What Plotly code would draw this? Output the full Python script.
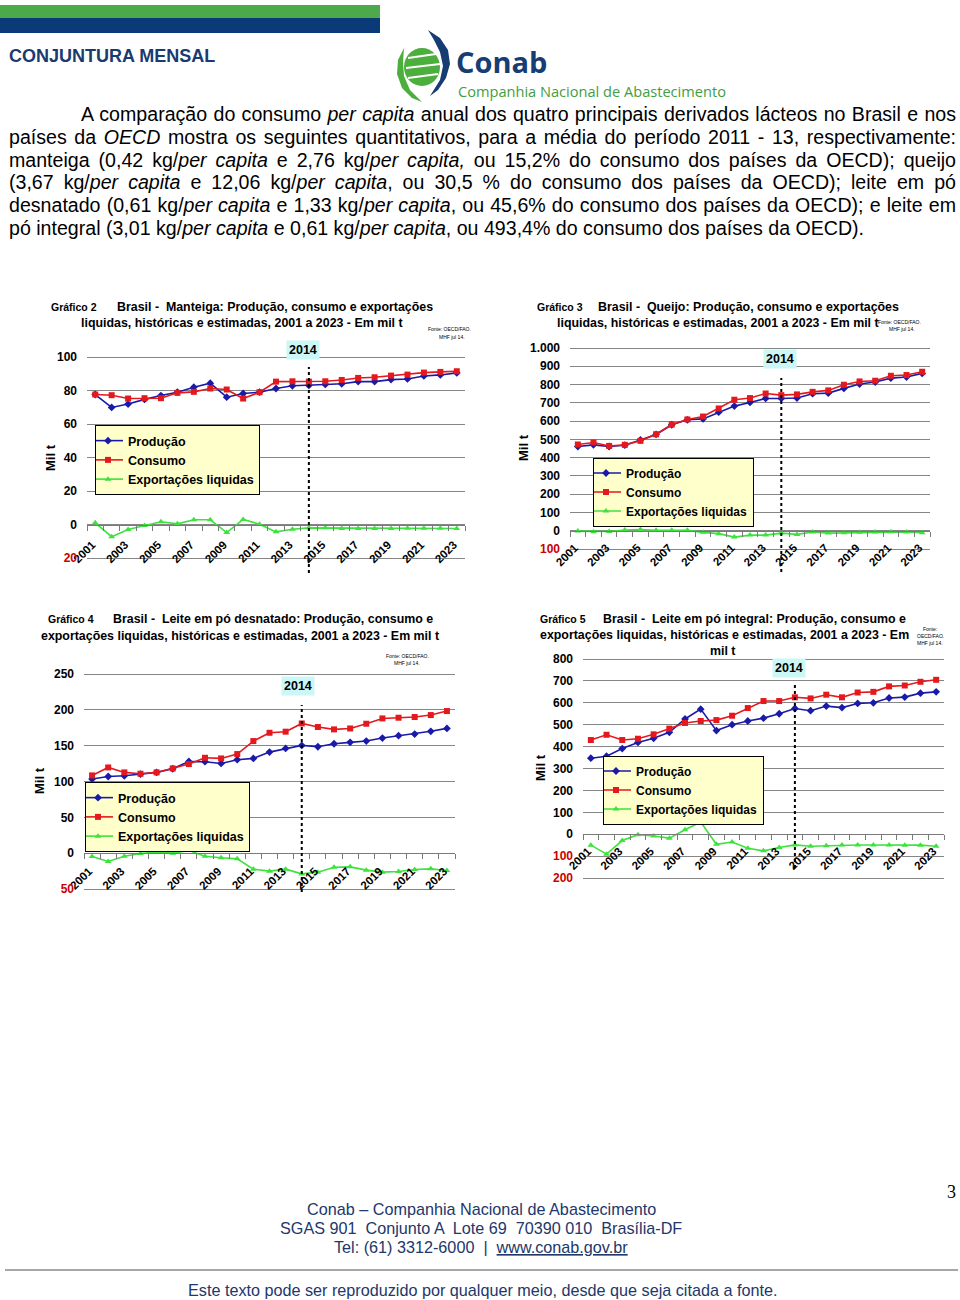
import json
import plotly.graph_objects as go

# ---------------- data ----------------
years = list(range(2001, 2024))
marker_year = 2014

manteiga_producao = [77.6, 69.9, 71.9, 74.7, 77.0, 79.0, 82.0, 84.4, 76.0, 78.2, 79.0, 81.2,
                     82.8, 83.0, 83.6, 84.0, 85.3, 85.3, 86.5, 86.9, 88.7, 89.3, 90.5]
manteiga_consumo = [77.6, 77.2, 75.2, 75.4, 75.4, 78.6, 79.2, 81.2, 80.6, 75.2, 79.0, 85.3,
                    85.5, 85.3, 85.5, 86.3, 87.5, 87.9, 88.9, 89.5, 90.7, 91.1, 91.5]
manteiga_export = [1.0, -7.3, -3.0, -0.6, 1.6, 0.4, 2.8, 2.8, -4.8, 3.0, 0.2, -4.4,
                   -2.8, -2.0, -2.0, -2.4, -2.4, -2.4, -2.4, -2.2, -2.2, -2.2, -2.4]

queijo_producao = [461, 470, 461, 468, 497, 527, 580, 607, 612, 649, 682, 702,
                   724, 724, 726, 750, 753, 779, 803, 814, 835, 841, 861]
queijo_consumo = [472, 483, 464, 470, 492, 528, 581, 609, 625, 669, 717, 726,
                  751, 742, 746, 760, 768, 799, 817, 821, 848, 852, 870]
queijo_export = [-2, -5, -4, 4, 7, 2, 2, 2, -9, -16, -35, -24,
                 -24, -13, -20, -7, -13, -11, -9, -7, -5, -7, -11]

lpd_producao = [103.4, 107.0, 108.0, 110.3, 112.7, 117.8, 128.0, 127.6, 125.2, 130.4, 132.2, 141.0,
                146.2, 150.4, 148.5, 152.7, 154.6, 156.4, 160.6, 163.9, 166.2, 170.0, 174.1]
lpd_consumo = [108.5, 119.6, 112.7, 110.8, 112.7, 118.2, 124.3, 133.1, 132.2, 138.3, 156.4, 168.0,
               169.5, 181.0, 176.0, 172.7, 174.0, 180.6, 188.0, 189.0, 190.0, 192.7, 198.3]
lpd_export = [-4.7, -11.6, -4.2, -0.5, 1.4, 0.0, 3.7, -4.2, -6.5, -7.9, -22.3, -25.1,
              -22.3, -28.9, -26.5, -19.6, -19.1, -23.7, -26.5, -25.6, -22.8, -21.9, -24.2]

lpi_producao = [347, 356, 391, 419, 438, 465, 526, 571, 473, 500, 517, 530,
                550, 574, 564, 585, 578, 597, 600, 622, 626, 644, 650]
lpi_consumo = [430, 454, 430, 436, 456, 482, 508, 517, 521, 541, 576, 608,
               608, 625, 620, 637, 625, 647, 650, 675, 679, 696, 705]
lpi_export = [-50, -91, -29, -2, -8, -18, 20, 56, -46, -36, -64, -76,
              -61, -49, -55, -53, -49, -49, -49, -49, -50, -50, -55]

series_names = ["Produção", "Consumo", "Exportações liquidas"]

# ---------------- page geometry helpers ----------------
W, H = 960, 1300
FONT = "Liberation Sans, Arial, sans-serif"
BLUE, RED, GREEN = "#1a1aa8", "#e3191e", "#3ee23e"
GRID = "#868686"
NAVY = "#1b3a70"


def px(x):
    return x / W


def py(y):
    return 1 - y / H


charts = [
    dict(data=(manteiga_producao, manteiga_consumo, manteiga_export), ymin=-20, ymax=100, step=20,
         box=(87, 465, 357, 558), legend=(95, 460), lfs=12.5, lab=(350, -6), line=(367, 573),
         ytitle=(50, 458), xstand=8),
    dict(data=(queijo_producao, queijo_consumo, queijo_export), ymin=-100, ymax=1000, step=100,
         box=(570, 930, 348, 549), legend=(593, 492), lfs=12, lab=(359, -1), line=(378, 572),
         ytitle=(524, 448), xstand=5),
    dict(data=(lpd_producao, lpd_consumo, lpd_export), ymin=-50, ymax=250, step=50,
         box=(84, 455, 674, 889), legend=(85, 817), lfs=12.5, lab=(686, -4), line=(705, 892),
         ytitle=(40, 781), xstand=6),
    dict(data=(lpi_producao, lpi_consumo, lpi_export), ymin=-200, ymax=800, step=100,
         box=(583, 944, 659, 878), legend=(603, 790), lfs=12, lab=(668, -6), line=(685, 868),
         ytitle=(540, 768), xstand=5),
]


def fmt(v):
    s = f"{abs(v):,}".replace(",", ".")
    return f"<span style='color:#cc0000'>{s}</span>" if v < 0 else s


fig = go.Figure()
annotations = []
shapes = []


def txt(x, y, text, size, color="black", family=FONT, xanchor="left", angle=0, bg=None, pad=0, align="center"):
    a = dict(x=px(x), y=py(y), xref="paper", yref="paper", text=text, showarrow=False,
             xanchor=xanchor, yanchor="middle", textangle=angle, align=align,
             font=dict(family=family, size=size, color=color), borderpad=pad)
    if bg:
        a["bgcolor"] = bg
    annotations.append(a)
    return len(annotations) - 1


styles = [
    dict(color=BLUE, symbol="diamond", size=6),
    dict(color=RED, symbol="square", size=6),
    dict(color=GREEN, symbol="triangle-up", size=6),
]

for i, c in enumerate(charts):
    n = "" if i == 0 else str(i + 1)
    x0, x1, top, bot = c["box"]
    span = c["ymax"] - c["ymin"]
    hpx = bot - top
    padpx = 2
    ypad = padpx * span / hpx
    ylo, yhi = c["ymin"] - ypad, c["ymax"] + ypad
    dom_y = [py(bot + padpx), py(top - padpx)]
    zero_pos = dom_y[0] + (0 - ylo) / (yhi - ylo) * (dom_y[1] - dom_y[0])
    tickvals = list(range(c["ymin"], c["ymax"] + 1, c["step"]))
    leg = "legend" + n
    for k, (vals, st, name) in enumerate(zip(c["data"], styles, series_names)):
        fig.add_trace(go.Scatter(
            x=years, y=vals, mode="lines+markers", name=name,
            line=dict(color=st["color"], width=1.6),
            marker=dict(color=st["color"], symbol=st["symbol"], size=st["size"]),
            xaxis="x" + n, yaxis="y" + n, legend=leg, cliponaxis=False,
            hoverinfo="x+y+name"))
    fig.update_layout(**{
        "xaxis" + n: dict(
            domain=[px(x0), px(x1)], range=[years[0] - 0.5, years[-1] + 0.5],
            anchor="free", position=zero_pos, tickmode="array", automargin=False,
            tickvals=years[::2], ticktext=[str(y) for y in years[::2]], tickangle=-45,
            ticks="", showline=True, linecolor="#7a7a7a", linewidth=1, showgrid=False,
            zeroline=False, ticklabelstandoff=c["xstand"], ticklabelshift=-3,
            tickfont=dict(family=FONT, size=11.5, color="black", weight="bold"),
            minor=dict(tickmode="array", tickvals=[y - 0.5 for y in years] + [years[-1] + 0.5],
                       ticks="outside", ticklen=5, tickcolor="#7a7a7a", showgrid=False),
            fixedrange=True),
        "yaxis" + n: dict(
            domain=dom_y, range=[ylo, yhi], anchor="x" + n, tickmode="array", automargin=False,
            tickvals=tickvals, ticktext=[fmt(v) for v in tickvals],
            showgrid=True, gridcolor=GRID, gridwidth=1, zeroline=False, showline=False,
            ticks="", ticklabelstandoff=9,
            tickfont=dict(family=FONT, size=12, color="black", weight="bold"), fixedrange=True),
        leg: dict(x=px(c["legend"][0]), y=py(c["legend"][1]), xanchor="left", yanchor="middle",
                  bgcolor="#FFFFCC", bordercolor="black", borderwidth=1, itemwidth=30,
                  tracegroupgap=0, traceorder="normal", indentation=-8,
                  font=dict(family=FONT, size=c["lfs"], color="black", weight="bold")),
    })
    # 2014 reference line and label
    shapes.append(dict(type="line", xref="x" + n, yref="paper", x0=marker_year, x1=marker_year,
                       y0=py(c["line"][1]), y1=py(c["line"][0]),
                       line=dict(color="black", width=2, dash="dot")))
    annotations.append(dict(x=marker_year, xref="x" + n, y=py(c["lab"][0]), yref="paper",
                            text="<b>2014</b>", showarrow=False, xanchor="center", yanchor="middle",
                            xshift=c["lab"][1], bgcolor="#CCF7F7", borderpad=2,
                            font=dict(family=FONT, size=12.5, color="black")))
    txt(c["ytitle"][0], c["ytitle"][1], "<b>Mil t</b>", 13, xanchor="center", angle=-90)

# ---------------- chart titles ----------------
TS = 12.4
GS = 10.5
txt(50, 307, "<b>Gráfico 2</b>", GS)
txt(116, 307, "<b>Brasil -  Manteiga: Produção, consumo e exportações</b>", TS)
txt(80, 323, "<b>liquidas, históricas e estimadas, 2001 a 2023 - Em mil t</b>", TS)
txt(449, 329, "Fonte: OECD/FAO.", 5, xanchor="center")
txt(452, 337, "MHF jul 14.", 5, xanchor="center")

txt(536, 307, "<b>Gráfico 3</b>", GS)
txt(597, 307, "<b>Brasil -  Queijo: Produção, consumo e exportações</b>", TS)
txt(556, 323, "<b>liquidas, históricas e estimadas, 2001 a 2023 - Em mil t</b>", TS)
txt(899, 322, "Fonte: OECD/FAO.", 5, xanchor="center")
txt(902, 329, "MHF jul 14.", 5, xanchor="center")

txt(47, 619, "<b>Gráfico 4</b>", GS)
txt(112, 619, "<b>Brasil -  Leite em pó desnatado: Produção, consumo e</b>", TS)
txt(40, 636, "<b>exportações liquidas, históricas e estimadas, 2001 a 2023 - Em mil t</b>", TS)
txt(407, 656, "Fonte: OECD/FAO.", 5, xanchor="center")
txt(407, 663, "MHF jul 14.", 5, xanchor="center")

txt(539, 619, "<b>Gráfico 5</b>", GS)
txt(602, 619, "<b>Brasil -  Leite em pó integral: Produção, consumo e</b>", TS)
txt(539, 635, "<b>exportações liquidas, históricas e estimadas, 2001 a 2023 - Em</b>", TS)
txt(722, 651, "<b>mil t</b>", TS, xanchor="center")
txt(930, 629, "Fonte:", 5, xanchor="center")
txt(930, 636, "OECD/FAO.", 5, xanchor="center")
txt(930, 643, "MHF jul 14.", 5, xanchor="center")

# ---------------- page header ----------------
shapes.append(dict(type="rect", xref="paper", yref="paper", x0=0, x1=px(380), y0=py(18), y1=py(5),
                   fillcolor="#4caa4a", line=dict(width=0)))
shapes.append(dict(type="rect", xref="paper", yref="paper", x0=0, x1=px(380), y0=py(33), y1=py(18),
                   fillcolor="#0b3a78", line=dict(width=0)))
txt(8, 56, "<b>CONJUNTURA MENSAL</b>", 18, color=NAVY)


def path(points, close=True):
    s = "M " + " L ".join(f"{px(x):.5f},{py(y):.5f}" for x, y in points)
    return s + (" Z" if close else "")


# logo emblem (decorative)
shapes.append(dict(type="circle", xref="paper", yref="paper", x0=px(404), x1=px(440), y0=py(86), y1=py(48),
                   fillcolor="#4cae3c", line=dict(width=0)))
for (a, b, c2, d) in [(408, 58, 436, 54), (406, 68, 440, 64), (408, 78, 438, 74)]:
    shapes.append(dict(type="line", xref="paper", yref="paper", x0=px(a), y0=py(b), x1=px(c2), y1=py(d),
                       line=dict(color="white", width=2)))
shapes.append(dict(type="path", xref="paper", yref="paper",
                   path=path([(428, 30), (440, 38), (448, 50), (450, 64), (446, 78), (438, 90), (430, 96),
                              (440, 80), (443, 66), (440, 52), (434, 40)]),
                   fillcolor="#163c74", line=dict(width=0)))
shapes.append(dict(type="path", xref="paper", yref="paper",
                   path=path([(404, 48), (398, 60), (397, 74), (402, 88), (412, 98), (422, 102),
                              (410, 90), (404, 76), (403, 62)]),
                   fillcolor="#4cae3c", line=dict(width=0)))
txt(455, 61, "<b>Conab</b>", 29, color="#173d73", family="Open Sans, sans-serif")
txt(457, 91.5, "Companhia Nacional de Abastecimento", 14.6, color="#3f9e3f", family="Open Sans, sans-serif")

# ---------------- paragraph (justified lines) ----------------
PS = 19.6
RIGHT = 955
para = [
    (80, 114, "A comparação do consumo <i>per capita</i> anual dos quatro principais derivados lácteos no Brasil e nos", True),
    (8, 137, "países da <i>OECD</i> mostra os seguintes quantitativos, para a média do período 2011 - 13, respectivamente:", True),
    (8, 160, "manteiga (0,42 kg/<i>per capita</i> e 2,76 kg/<i>per capita,</i> ou 15,2% do consumo dos países da OECD); queijo", True),
    (8, 182, "(3,67 kg/<i>per capita</i> e 12,06 kg/<i>per capita</i>, ou 30,5 % do consumo dos países da OECD); leite em pó", True),
    (8, 205, "desnatado (0,61 kg/<i>per capita</i> e 1,33 kg/<i>per capita</i>, ou 45,6% do consumo dos países da OECD); e leite em", True),
    (8, 228, "pó integral (3,01 kg/<i>per capita</i> e 0,61 kg/<i>per capita</i>, ou 493,4% do consumo dos países da OECD).", False),
]
justify = []
for x, y, t, j in para:
    idx = txt(x, y, t, PS, align="left")
    if j:
        justify.append([idx, RIGHT - x])

# ---------------- footer ----------------
FC = "#22376a"
FS = 16.2
txt(481, 1209, "Conab – Companhia Nacional de Abastecimento", FS, color=FC, xanchor="center")
txt(481, 1228, "SGAS 901  Conjunto A  Lote 69  70390 010  Brasília-DF", FS, color=FC, xanchor="center")
txt(481, 1247, "Tel: (61) 3312-6000  |  <span style='text-decoration:underline'>www.conab.gov.br</span>", FS,
    color=FC, xanchor="center")
txt(951, 1192, "3", 18, family="Liberation Serif, Times New Roman, serif", xanchor="center")
shapes.append(dict(type="line", xref="paper", yref="paper", x0=px(5), x1=px(958), y0=py(1270), y1=py(1270),
                   line=dict(color="#8a8a8a", width=1.5)))
txt(482, 1290, "Este texto pode ser reproduzido por qualquer meio, desde que seja citada a fonte.", FS,
    color=FC, xanchor="center")

fig.update_layout(width=W, height=H, margin=dict(l=0, r=0, t=0, b=0, autoexpand=False), autosize=False,
                  paper_bgcolor="white", plot_bgcolor="rgba(0,0,0,0)", showlegend=True,
                  annotations=annotations, shapes=shapes, hovermode="closest")

post = """
document.body.style.margin = '0px';
document.body.style.padding = '0px';
try {
  var gd = document.getElementById('{plot_id}');
  var targets = JUSTIFY;
  targets.forEach(function(t) {
    var el = gd.querySelector('g.annotation[data-index="' + t[0] + '"] text.annotation-text');
    if (!el) return;
    var w = el.getComputedTextLength();
    var spaces = (el.textContent.match(/ /g) || []).length;
    if (spaces > 0 && t[1] > w) { el.style.wordSpacing = ((t[1] - w) / spaces) + 'px'; }
  });
} catch (e) {}
""".replace("JUSTIFY", json.dumps(justify))

fig.write_html("out.html", config={"displayModeBar": False}, post_script=post)
